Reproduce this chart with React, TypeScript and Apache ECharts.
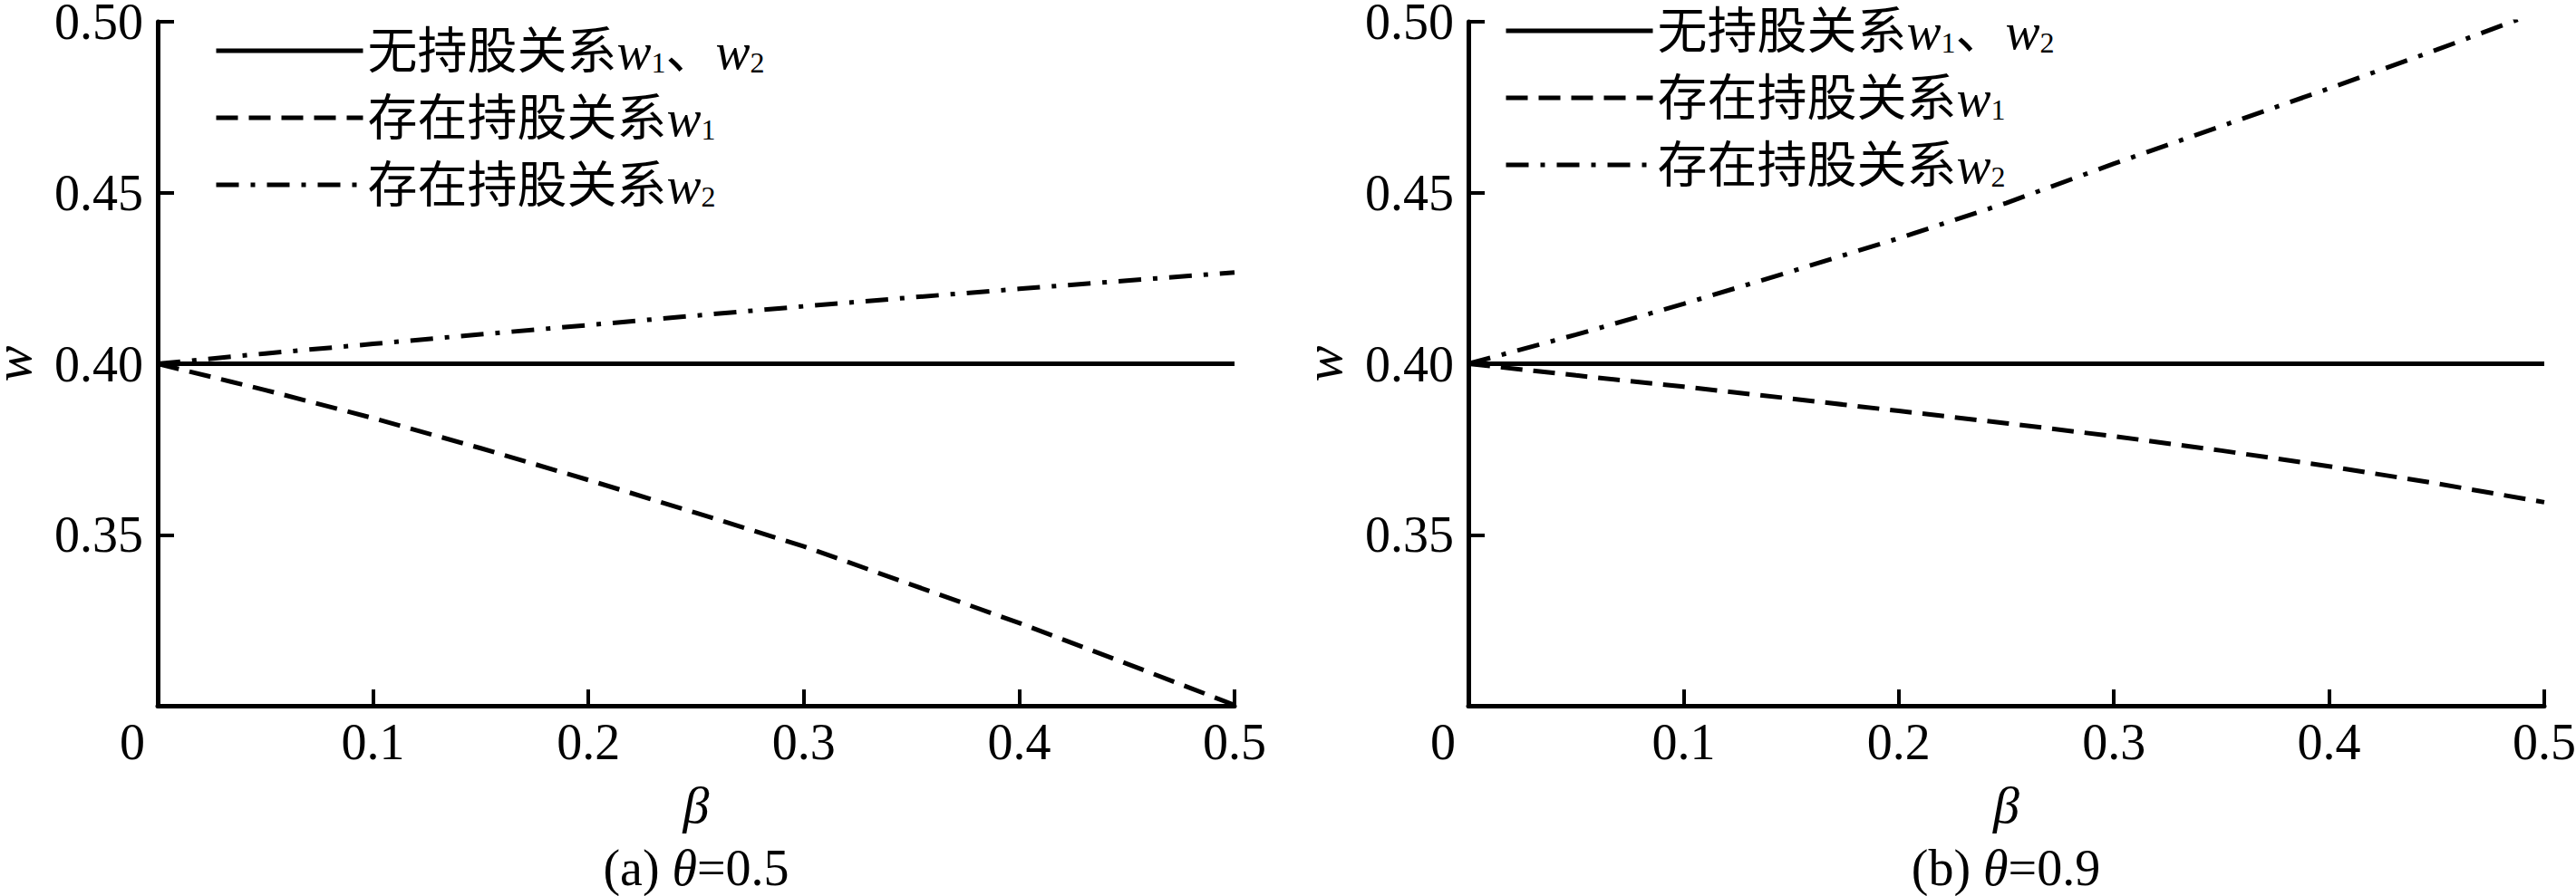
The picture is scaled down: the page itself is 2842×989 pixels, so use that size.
import React, { useEffect, useRef } from "react";
import * as echarts from "echarts";

// ---- data ----
const BETA = [0, 0.05, 0.1, 0.15, 0.2, 0.25, 0.3, 0.35, 0.4, 0.45, 0.5];
const X_TICKS = [0, 0.1, 0.2, 0.3, 0.4, 0.5];
const Y_TICKS = [0.35, 0.4, 0.45, 0.5];

// (a) theta = 0.5
const NO_HOLD_A = [0.4, 0.4, 0.4, 0.4, 0.4, 0.4, 0.4, 0.4, 0.4, 0.4, 0.4];
const HOLD_W1_A = [0.4, 0.3923, 0.3841, 0.3753, 0.366, 0.3564, 0.3466, 0.3354, 0.3242, 0.3123, 0.3002];
const HOLD_W2_A = [0.4, 0.403, 0.4058, 0.4086, 0.4113, 0.4141, 0.4168, 0.4194, 0.4219, 0.4243, 0.4267];

// (b) theta = 0.9
const NO_HOLD_B = [0.4, 0.4, 0.4, 0.4, 0.4, 0.4, 0.4, 0.4, 0.4, 0.4, 0.4];
const HOLD_W1_B = [0.4, 0.3966, 0.3933, 0.3898, 0.3862, 0.3826, 0.3788, 0.3746, 0.37, 0.365, 0.3595];
const HOLD_W2_B = [0.4, 0.4085, 0.4175, 0.427, 0.4367, 0.447, 0.4585, 0.4695, 0.4805, 0.4918, 0.5035];

const SERIES_NAMES = ["无持股关系w1、w2", "存在持股关系w1", "存在持股关系w2"];
const LEGEND_RICH_TEXT: Record<string, string> = {
  "无持股关系w1、w2": "无持股关系{w|w}{s|1}、{w|w}{s|2}",
  "存在持股关系w1": "存在持股关系{w|w}{s|1}",
  "存在持股关系w2": "存在持股关系{w|w}{s|2}",
};
const CAPTIONS = ["(a) {i|θ}=0.5", "(b) {i|θ}=0.9"];
const X_NAME = "β";
const Y_NAME = "w";

const SERIF = "Liberation Serif";
const MIXED = "Liberation Serif, Noto Sans CJK SC";

const pairs = (ys: number[]) => BETA.map((b, i) => [b, ys[i]]);

const LINE_TYPES: any[] = ["solid", [24, 12], [25, 13, 5, 13]];

export default function App() {
  const ref = useRef<HTMLDivElement>(null);

  useEffect(() => {
    document.body.style.margin = "0";
    if (!ref.current) return;
    const chart = echarts.init(ref.current, undefined, { renderer: "svg" });

    const grids = [
      { left: 174, top: 24, width: 1188, height: 755, containLabel: false, outerBoundsMode: "none" },
      { left: 1620, top: 24, width: 1187, height: 755, containLabel: false, outerBoundsMode: "none" },
    ];

    const xAxis = grids.map((_, gi) => ({
      type: "value",
      gridIndex: gi,
      min: X_TICKS[0],
      max: X_TICKS[X_TICKS.length - 1],
      interval: 0.1,
      name: X_NAME,
      nameLocation: "middle",
      nameGap: 80,
      nameTextStyle: { fontFamily: SERIF, fontStyle: "italic", fontSize: 58, color: "#000" },
      axisLine: { show: true, lineStyle: { color: "#000", width: 5 } },
      axisTick: { show: true, inside: true, length: 18, lineStyle: { color: "#000", width: 4 } },
      splitLine: { show: false },
      axisLabel: {
        margin: 12,
        color: "#000",
        fontFamily: SERIF,
        fontSize: 56,
        formatter: (v: number) => (Math.abs(v) < 1e-9 ? "{z|0}" : v.toFixed(1)),
        rich: { z: { fontFamily: SERIF, fontSize: 56, color: "#000", width: 84, align: "left" } },
      },
    }));

    const yAxis = grids.map((_, gi) => ({
      type: "value",
      gridIndex: gi,
      min: 0.3,
      max: Y_TICKS[Y_TICKS.length - 1],
      interval: 0.05,
      name: Y_NAME,
      nameLocation: "middle",
      nameGap: 130,
      nameTextStyle: { fontFamily: SERIF, fontStyle: "italic", fontSize: 60, color: "#000" },
      axisLine: { show: true, lineStyle: { color: "#000", width: 5 } },
      axisTick: { show: true, inside: true, length: 18, lineStyle: { color: "#000", width: 4 } },
      splitLine: { show: false },
      axisLabel: {
        margin: 16,
        color: "#000",
        fontFamily: SERIF,
        fontSize: 56,
        lineHeight: 44,
        formatter: (v: number) => (Y_TICKS.some((t) => Math.abs(t - v) < 1e-6) ? v.toFixed(2) : ""),
      },
    }));

    const panelData = [
      [NO_HOLD_A, HOLD_W1_A, HOLD_W2_A],
      [NO_HOLD_B, HOLD_W1_B, HOLD_W2_B],
    ];

    const series: any[] = [];
    panelData.forEach((sets, gi) => {
      sets.forEach((ys, si) => {
        series.push({
          type: "line",
          name: SERIES_NAMES[si],
          xAxisIndex: gi,
          yAxisIndex: gi,
          data: pairs(ys),
          symbol: "none",
          showSymbol: false,
          clip: true,
          lineStyle: { color: "#000", width: 5, type: LINE_TYPES[si] },
          itemStyle: { color: "#000" },
          z: 3 - si,
        });
      });
    });

    const legendText = {
      color: "#000",
      fontFamily: MIXED,
      fontSize: 55,
      lineHeight: 58,
      padding: [0, 0, 0, 0],
      rich: {
        w: { fontFamily: SERIF, fontStyle: "italic", fontSize: 57, lineHeight: 58, color: "#000" },
        s: { fontFamily: SERIF, fontSize: 32, lineHeight: 30, verticalAlign: "bottom", color: "#000" },
      },
    };

    const legends = [
      { left: 231, top: 22 },
      { left: 1654, top: 0 },
    ].map((pos) => ({
      ...pos,
      orient: "vertical",
      itemWidth: 162,
      itemHeight: 20,
      itemGap: 16,
      selectedMode: false,
      data: SERIES_NAMES,
      formatter: (name: string) => LEGEND_RICH_TEXT[name] || name,
      itemStyle: { opacity: 0, color: "transparent", borderWidth: 0 },
      lineStyle: { width: 5, color: "#000" },
      textStyle: legendText,
    }));

    const graphic = [768, 2213].map((cx, i) => ({
      type: "text",
      x: cx,
      y: 930,
      style: {
        text: CAPTIONS[i],
        fontFamily: SERIF,
        fontSize: 56,
        fill: "#000",
        align: "center",
        verticalAlign: "top",
        rich: { i: { fontFamily: SERIF, fontStyle: "italic", fontSize: 56, fill: "#000" } },
      },
    }));

    chart.setOption({
      animation: false,
      backgroundColor: "#fff",
      textStyle: { fontFamily: SERIF, color: "#000" },
      grid: grids,
      xAxis,
      yAxis,
      legend: legends,
      series,
      graphic,
    });

    return () => chart.dispose();
  }, []);

  return <div ref={ref} style={{ width: 2842, height: 989 }} />;
}
